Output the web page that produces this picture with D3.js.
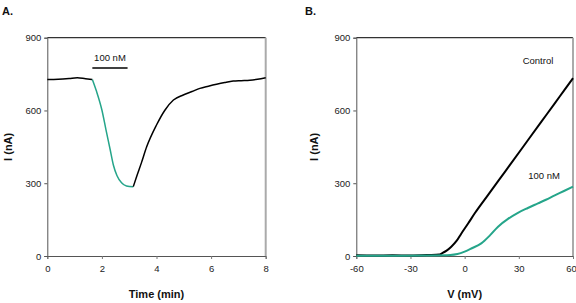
<!DOCTYPE html>
<html>
<head>
<meta charset="utf-8">
<script src="https://cdn.jsdelivr.net/npm/d3@7"></script>
<style>
  body { margin: 0; background: #fff; }
  svg { display: block; }
  .tick text { font-family: "Liberation Sans Narrow", "Arial Narrow", "Liberation Sans", Arial, sans-serif; font-size: 9.5px; fill: #222; }
  .title { font-family: "Liberation Sans", Arial, sans-serif; font-size: 11px; font-weight: bold; fill: #111; }
  .note { font-family: "Liberation Sans Narrow", "Arial Narrow", "Liberation Sans", Arial, sans-serif; font-size: 9.5px; fill: #111; }
</style>
</head>
<body>
<script>
// Panel A: current vs time, drug application in teal
const timeBefore = [0, 0.4, 0.8, 1.1, 1.4, 1.65];
const currBefore = [728, 729, 732, 735, 731, 728];
const timeDrug = [1.65, 1.8, 2.0, 2.15, 2.3, 2.42, 2.55, 2.72, 2.9, 3.15];
const currDrug = [728, 680, 602, 520, 440, 375, 332, 302, 289, 286];
const timeAfter = [3.15, 3.27, 3.45, 3.64, 4.0, 4.3, 4.62, 4.98, 5.3, 5.59, 5.9, 6.2, 6.5, 6.81, 7.1, 7.42, 7.7, 8.0];
const currAfter = [286, 327, 385, 450, 540, 600, 643, 664, 678, 691, 700, 708, 715, 721, 723, 725, 729, 735];
const barA = [1.65, 2.94];
const barLevel = 775;

// Panel B: I-V curves
const voltCtrl = [-60, -50, -40, -30, -20, -14, -12.6, -10, -7.4, -4.5, -1.9, 2, 5.6, 12.9, 22.2, 31.4, 42.4, 50, 55, 60];
const currCtrl = [3, 2, 3, 2, 4, 6, 11, 22, 38, 62, 92, 135, 176, 251, 346, 440, 553, 630, 682, 733];
const voltDrug = [-60, -40, -20, -8, -4, 0, 4, 9.2, 14, 18.5, 24, 29.5, 35, 40.6, 45, 49.9, 55, 60];
const currDrug2 = [1, 1, 2, 4, 8, 18, 32, 52, 85, 121, 153, 178, 198, 217, 232, 250, 268, 286];

const xTicksA = [0, 2, 4, 6, 8];
const xTicksB = [-60, -30, 0, 30, 60];
const yTicks = [0, 300, 600, 900];

const black = '#000';
const teal = '#25a58a';

const svg = d3.select('body').append('svg')
    .attr('width', 576)
    .attr('height', 303);

const yTop = 37.7, yBottom = 256;

function panel(opts) {
  const x = d3.scaleLinear().domain(opts.xDomain).range(opts.xRange);
  const y = d3.scaleLinear().domain([0, 900]).range([yBottom, yTop]);
  const g = svg.append('g');

  // frame: top dark, right light gray
  g.append('line')
      .attr('x1', opts.xRange[0]).attr('x2', opts.xRange[1])
      .attr('y1', yTop).attr('y2', yTop)
      .attr('stroke', '#333').attr('stroke-width', 1.2);
  g.append('line')
      .attr('x1', opts.xRange[1]).attr('x2', opts.xRange[1])
      .attr('y1', yTop).attr('y2', yBottom)
      .attr('stroke', '#aaa').attr('stroke-width', 2);

  g.append('g')
      .attr('transform', `translate(0,${yBottom})`)
      .call(d3.axisBottom(x).tickValues(opts.xTicks).tickFormat(d => String(d)).tickSize(3).tickPadding(6))
      .call(a => a.select('.domain').attr('stroke', '#555'))
      .call(a => a.selectAll('.tick line').attr('stroke', '#777'))
      .call(a => a.selectAll('.tick:last-of-type text').attr('dx', opts.lastDx || 0));

  g.append('g')
      .attr('transform', `translate(${opts.xRange[0]},0)`)
      .call(d3.axisLeft(y).tickValues(yTicks).tickSize(3).tickPadding(3))
      .call(a => a.select('.domain').attr('stroke', '#555'))
      .call(a => a.selectAll('.tick line').attr('stroke', '#555'));

  const line = d3.line()
      .curve(d3.curveMonotoneX)
      .x(d => x(d[0]))
      .y(d => y(d[1]));

  opts.series.forEach(s => {
    g.append('path')
        .datum(d3.zip(s.x, s.y))
        .attr('d', line)
        .attr('fill', 'none')
        .attr('stroke', s.color)
        .attr('stroke-width', s.width)
        .attr('stroke-linejoin', 'round');
  });

  g.append('text')
      .attr('class', 'title')
      .attr('x', (opts.xRange[0] + opts.xRange[1]) / 2)
      .attr('y', 298)
      .attr('text-anchor', 'middle')
      .text(opts.xLabel);

  g.append('text')
      .attr('class', 'title')
      .attr('transform', `translate(${opts.yLabelX},${(yTop + yBottom) / 2}) rotate(-90)`)
      .attr('text-anchor', 'middle')
      .text('I (nA)');

  g.append('text')
      .attr('class', 'title')
      .attr('x', opts.letterX)
      .attr('y', 15)
      .text(opts.letter);

  return {x, y, g};
}

const A = panel({
  xDomain: [0, 8], xRange: [47.3, 265.7], xTicks: xTicksA,
  xLabel: 'Time (min)', yLabelX: 12, letter: 'A.', letterX: 2,
  series: [
    {x: timeBefore, y: currBefore, color: black, width: 1.5},
    {x: timeDrug, y: currDrug, color: teal, width: 1.5},
    {x: timeAfter, y: currAfter, color: black, width: 1.5}
  ]
});

A.g.append('line')
    .attr('x1', A.x(barA[0])).attr('x2', A.x(barA[1]))
    .attr('y1', A.y(barLevel)).attr('y2', A.y(barLevel))
    .attr('stroke', black).attr('stroke-width', 1.5);
A.g.append('text')
    .attr('class', 'note')
    .attr('x', A.x((barA[0] + barA[1]) / 2))
    .attr('y', A.y(barLevel) - 7)
    .attr('text-anchor', 'middle')
    .text('100 nM');

const B = panel({
  xDomain: [-60, 60], xRange: [356.3, 573], xTicks: xTicksB, lastDx: -2,
  xLabel: 'V (mV)', yLabelX: 318, letter: 'B.', letterX: 305,
  series: [
    {x: voltCtrl, y: currCtrl, color: black, width: 2},
    {x: voltDrug, y: currDrug2, color: teal, width: 2}
  ]
});

B.g.append('text')
    .attr('class', 'note')
    .attr('x', 538).attr('y', 64)
    .attr('text-anchor', 'middle')
    .text('Control');
B.g.append('text')
    .attr('class', 'note')
    .attr('x', 544).attr('y', 179)
    .attr('text-anchor', 'middle')
    .text('100 nM');
</script>
</body>
</html>
